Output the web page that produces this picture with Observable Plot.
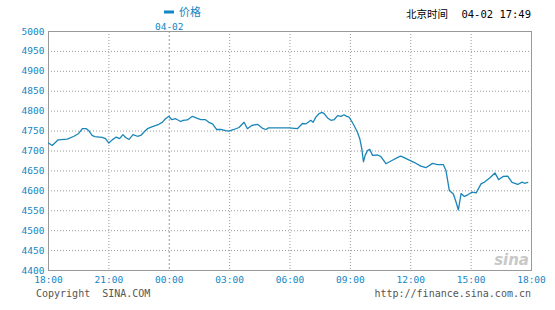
<!DOCTYPE html>
<html>
<head>
<meta charset="utf-8">
<script src="https://cdn.jsdelivr.net/npm/d3@7"></script>
<script src="https://cdn.jsdelivr.net/npm/@observablehq/plot@0.6"></script>
<style>
  html, body { margin: 0; padding: 0; background: #fff; }
  #chart svg { display: block; }
</style>
</head>
<body>
<div id="chart"></div>
<script>
// ---- data ----
const times = ["18:00","18:11","18:29","18:56","19:16","19:30","19:41","19:53","20:00","20:10","20:18","20:40","20:50","21:00","21:10","21:22","21:32","21:42","21:50","22:00","22:12","22:25","22:35","22:44","22:55","23:10","23:29","23:39","23:49","23:59",
  "00:07","00:19","00:34","00:41","00:54","01:09","01:24","01:34","01:47","01:58","02:09","02:21","02:33","02:48","02:58","03:13","03:28","03:43","03:53","04:06","04:23","04:38","04:48","04:56","05:57","06:22","06:37","06:47","07:02","07:09","07:17","07:27","07:35","07:42","07:52","08:02","08:12","08:22","08:32","08:41","08:49","08:56",
  "09:01","09:11","09:21","09:28","09:34","09:39","09:44","09:51","09:58","10:06","10:21","10:31","10:46","11:01","11:26","11:31","11:51","12:11","12:30","12:45","13:05","13:20","13:37","13:45","13:55","14:07","14:15","14:22","14:30","14:40","14:50","15:03","15:15","15:30","15:40","15:56","16:11","16:22","16:35","16:49","17:02","17:19","17:32","17:39","17:49"];
const prices = [4720,4714,4728,4730,4737,4744,4756,4756,4751,4739,4736,4734,4731,4720,4728,4735,4731,4741,4734,4729,4741,4737,4739,4747,4756,4761,4767,4772,4781,4787,
  4779,4781,4774,4777,4778,4787,4782,4779,4779,4772,4768,4754,4754,4751,4750,4754,4759,4772,4756,4764,4767,4757,4754,4758,4758,4756,4769,4768,4777,4772,4785,4794,4797,4794,4783,4777,4779,4789,4787,4791,4787,4785,
  4779,4764,4747,4731,4706,4673,4689,4701,4704,4689,4690,4686,4668,4675,4686,4687,4679,4671,4662,4658,4669,4666,4666,4651,4601,4592,4572,4552,4593,4586,4590,4597,4595,4618,4622,4633,4645,4628,4636,4637,4621,4616,4622,4619,4621];
const xTickLabels = ["18:00","21:00","00:00","03:00","06:00","09:00","12:00","15:00","18:00"];
const yTicks = [4400,4450,4500,4550,4600,4650,4700,4750,4800,4850,4900,4950,5000];
const seriesName = "价格";
const dateLabel = "04-02";
const headerLabel = "北京时间";
const stampLabel = "04-02 17:49";
const copyrightText = "Copyright  SINA.COM";
const urlText = "http://finance.sina.com.cn";

// ---- build table ----
const startDay = Date.UTC(2000, 3, 1);
function toDate(hm, afterMidnight) {
  const [h, m] = hm.split(":").map(Number);
  return new Date(startDay + (afterMidnight ? 86400000 : 0) + (h * 60 + m) * 60000);
}
let crossed = false;
const data = times.map((t, i) => {
  const h = +t.split(":")[0];
  if (h < 18) crossed = true;
  return {t: toDate(t, crossed), v: prices[i]};
});
let c2 = false;
const xTicks = xTickLabels.map((lab, i) => {
  const h = +lab.split(":")[0];
  if (i > 0 && h <= 18) c2 = true;
  return toDate(lab, c2);
});
const midnight = xTicks[2];
const innerTicks = xTicks.slice(1, -1).filter(d => +d !== +midnight);

const blue = "#1386c5";
const lineColor = "#1a86b8";
const mono = "'DejaVu Sans Mono', 'Liberation Mono', monospace";

const chart = Plot.plot({
  width: 555,
  height: 310,
  marginTop: 31,
  marginBottom: 40,
  marginLeft: 48,
  marginRight: 24,
  style: {fontFamily: mono, fontSize: "9.5px", background: "#fff"},
  x: {type: "utc", domain: [xTicks[0], xTicks[xTicks.length - 1]]},
  y: {domain: [4400, 5000]},
  marks: [
    Plot.gridY(yTicks.slice(1, -1), {stroke: "#999", strokeOpacity: 1, strokeDasharray: "1,2"}),
    Plot.gridX(innerTicks, {stroke: "#999", strokeOpacity: 1, strokeDasharray: "1,2"}),
    Plot.gridX([midnight], {stroke: "#999", strokeOpacity: 1, strokeDasharray: "2,2"}),
    Plot.frame({stroke: "#999"}),
    Plot.axisY(yTicks, {tickSize: 0, tickPadding: 4, fill: blue, label: null, tickFormat: d3.format("d"), fontSize: 9.5}),
    Plot.axisX(xTicks, {tickSize: 0, tickPadding: 6, fill: blue, label: null, tickFormat: d3.utcFormat("%H:%M"), fontSize: 9.5}),
    Plot.line(data, {x: "t", y: "v", stroke: lineColor, strokeWidth: 1.3}),
    Plot.text([dateLabel], {x: () => midnight, frameAnchor: "top", dy: -8, text: d => d, fill: blue, fontSize: 9.5})
  ]
});

document.getElementById("chart").appendChild(chart);

// header / footer / legend texts
const svg = d3.select(chart);
svg.append("rect").attr("x", 164).attr("y", 10.5).attr("width", 10).attr("height", 3).attr("fill", blue);
svg.append("text").attr("x", 179).attr("y", 16).attr("text-anchor", "start").attr("fill", blue)
  .style("font-family", "'Noto Sans CJK SC', sans-serif").style("font-size", "11px").text(seriesName);
svg.append("text").attr("x", 448).attr("y", 18).attr("text-anchor", "end").attr("fill", "#000")
  .style("font-family", "'Noto Sans CJK SC', sans-serif").style("font-size", "10.5px").text(headerLabel);
svg.append("text").attr("x", 531).attr("y", 17.5).attr("text-anchor", "end").attr("fill", "#000")
  .style("font-family", mono).style("font-size", "10.5px").text(stampLabel);
svg.append("text").attr("x", 36).attr("y", 297).attr("text-anchor", "start").attr("fill", "#555")
  .style("font-family", mono).style("font-size", "10px").style("white-space", "pre").text(copyrightText);
svg.append("text").attr("x", 531).attr("y", 297).attr("text-anchor", "end").attr("fill", "#555")
  .style("font-family", mono).style("font-size", "10px").text(urlText);
svg.append("text").attr("x", 529).attr("y", 265).attr("text-anchor", "end").attr("fill", "#c8c8c8")
  .style("font-family", "'DejaVu Sans', sans-serif").style("font-size", "15px").style("font-weight", "bold").style("font-style", "italic").text("sina");
</script>
</body>
</html>
